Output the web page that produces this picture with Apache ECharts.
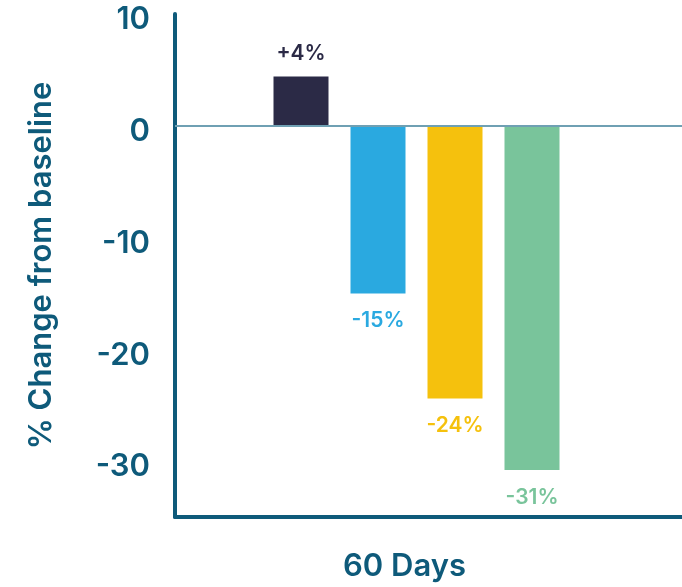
<!DOCTYPE html>
<html lang="en">

<head>
    <meta charset="UTF-8">
    <title>60 Days change from baseline</title>
    <script src="https://cdn.jsdelivr.net/npm/echarts@6/dist/echarts.min.js"></script>
    <style>
        html,
        body {
            margin: 0px;
            background-color: #ffffff;
        }

        #chart {
            width: 682px;
            height: 587px;
        }
    </style>
</head>

<body>
    <div id="chart"></div>
    <script>
        var categories = ['60 Days'];
        var armNames = ['Arm A', 'Arm B', 'Arm C', 'Arm D'];
        var armValues = [4.4, -15, -24.4, -30.8];
        var armLabels = ['+4%', '-15%', '-24%', '-31%'];
        var armColors = ['#2b2a46', '#2aa9e0', '#f5c10d', '#79c49b'];

        var axisColor = '#0e5a7a';
        var font = 'Inter';

        var series = armNames.map(function (name, i) {
            var s = {
                name: name,
                type: 'bar',
                barWidth: 55,
                barGap: '40%',
                data: [armValues[i]],
                itemStyle: { color: armColors[i] },
                label: {
                    show: true,
                    position: armValues[i] >= 0 ? 'top' : 'bottom',
                    distance: armValues[i] >= 0 ? 12 : 17,
                    formatter: armLabels[i],
                    color: armColors[i],
                    fontFamily: font,
                    fontSize: 21,
                    fontWeight: 600
                }
            };
            if (i === 0) {
                s.markLine = {
                    silent: true,
                    symbol: 'none',
                    label: { show: false },
                    lineStyle: { color: '#6fa0b3', width: 2, type: 'solid' },
                    data: [{ yAxis: 0 }]
                };
            }
            return s;
        });
        // narrow empty slot so the group sits a bit left of centre, like the original
        series.push({ name: 'spacer', type: 'bar', barWidth: 2, data: [] });

        var chart = echarts.init(document.getElementById('chart'));
        chart.setOption({
            animation: false,
            grid: { left: 175, right: 0, top: 14, bottom: 69 },
            xAxis: {
                type: 'category',
                data: categories,
                axisLine: { onZero: false, lineStyle: { color: axisColor, width: 4 } },
                axisTick: { show: false },
                axisLabel: { show: false },
                name: categories[0],
                nameLocation: 'middle',
                nameGap: 34,
                nameTextStyle: {
                    color: axisColor,
                    fontFamily: font,
                    fontSize: 31,
                    fontWeight: 600,
                    padding: [0, 48, 0, 0]
                }
            },
            yAxis: {
                type: 'value',
                min: -35,
                max: 10,
                interval: 5,
                splitLine: { show: false },
                axisTick: { show: false },
                axisLine: { show: true, lineStyle: { color: axisColor, width: 4 } },
                axisLabel: {
                    margin: 25,
                    color: axisColor,
                    formatter: function (v) { return v % 10 === 0 ? '{t|' + v + '}' : ''; },
                    rich: {
                        t: {
                            color: axisColor,
                            fontFamily: font,
                            fontSize: 31,
                            fontWeight: 600,
                            padding: [12, 0, 0, 0]
                        }
                    }
                },
                name: '% Change from baseline',
                nameLocation: 'middle',
                nameGap: 118,
                nameTextStyle: {
                    color: axisColor,
                    fontFamily: font,
                    fontSize: 31,
                    fontWeight: 600
                }
            },
            series: series
        });
    </script>
</body>

</html>
